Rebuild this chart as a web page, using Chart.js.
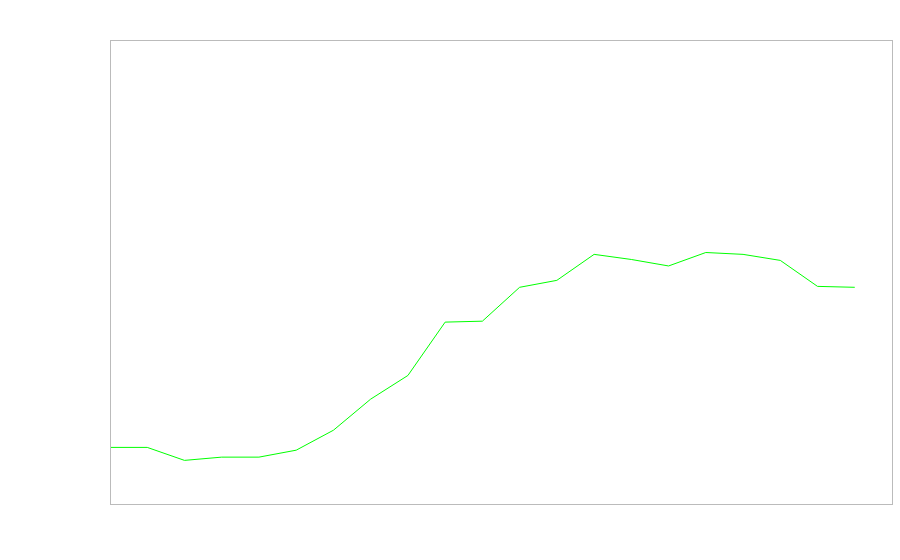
<!DOCTYPE html>
<html>
<head>
<meta charset="utf-8">
<script src="https://cdn.jsdelivr.net/npm/chart.js@4"></script>
<style>
html,body{margin:0;padding:0;background:#fff;}
canvas{display:block;}
</style>
</head>
<body>
<canvas id="c" width="900" height="560"></canvas>
<script>
const categories = ["1","2","3","4","5","6","7","8","9","10","11","12","13","14","15","16","17","18","19","20","21","22"];
const seriesValues = [12.2,12.2,9.4,10.1,10.1,11.6,15.9,22.6,27.7,39.2,39.4,46.7,48.2,53.8,52.7,51.3,54.2,53.8,52.5,46.9,46.7,null];

const frame = {
  id: 'frame',
  afterDraw(chart) {
    const a = chart.chartArea, ctx = chart.ctx;
    ctx.save();
    ctx.strokeStyle = '#bbbbbb';
    ctx.lineWidth = 1;
    ctx.strokeRect(Math.round(a.left) + 0.5, Math.round(a.top) + 0.5, Math.round(a.right - a.left), Math.round(a.bottom - a.top));
    ctx.restore();
  }
};

new Chart(document.getElementById('c'), {
  type: 'line',
  data: {
    labels: categories,
    datasets: [{
      data: seriesValues,
      borderColor: '#00ff00',
      borderWidth: 1,
      pointRadius: 0,
      tension: 0,
      fill: false
    }]
  },
  options: {
    responsive: false,
    animation: false,
    layout: { padding: { left: 110, top: 40, right: 8, bottom: 56 } },
    plugins: { legend: { display: false }, tooltip: { enabled: false } },
    scales: {
      x: { display: false, offset: false },
      y: { display: false, min: 0, max: 100 }
    }
  },
  plugins: [frame]
});
</script>
</body>
</html>
